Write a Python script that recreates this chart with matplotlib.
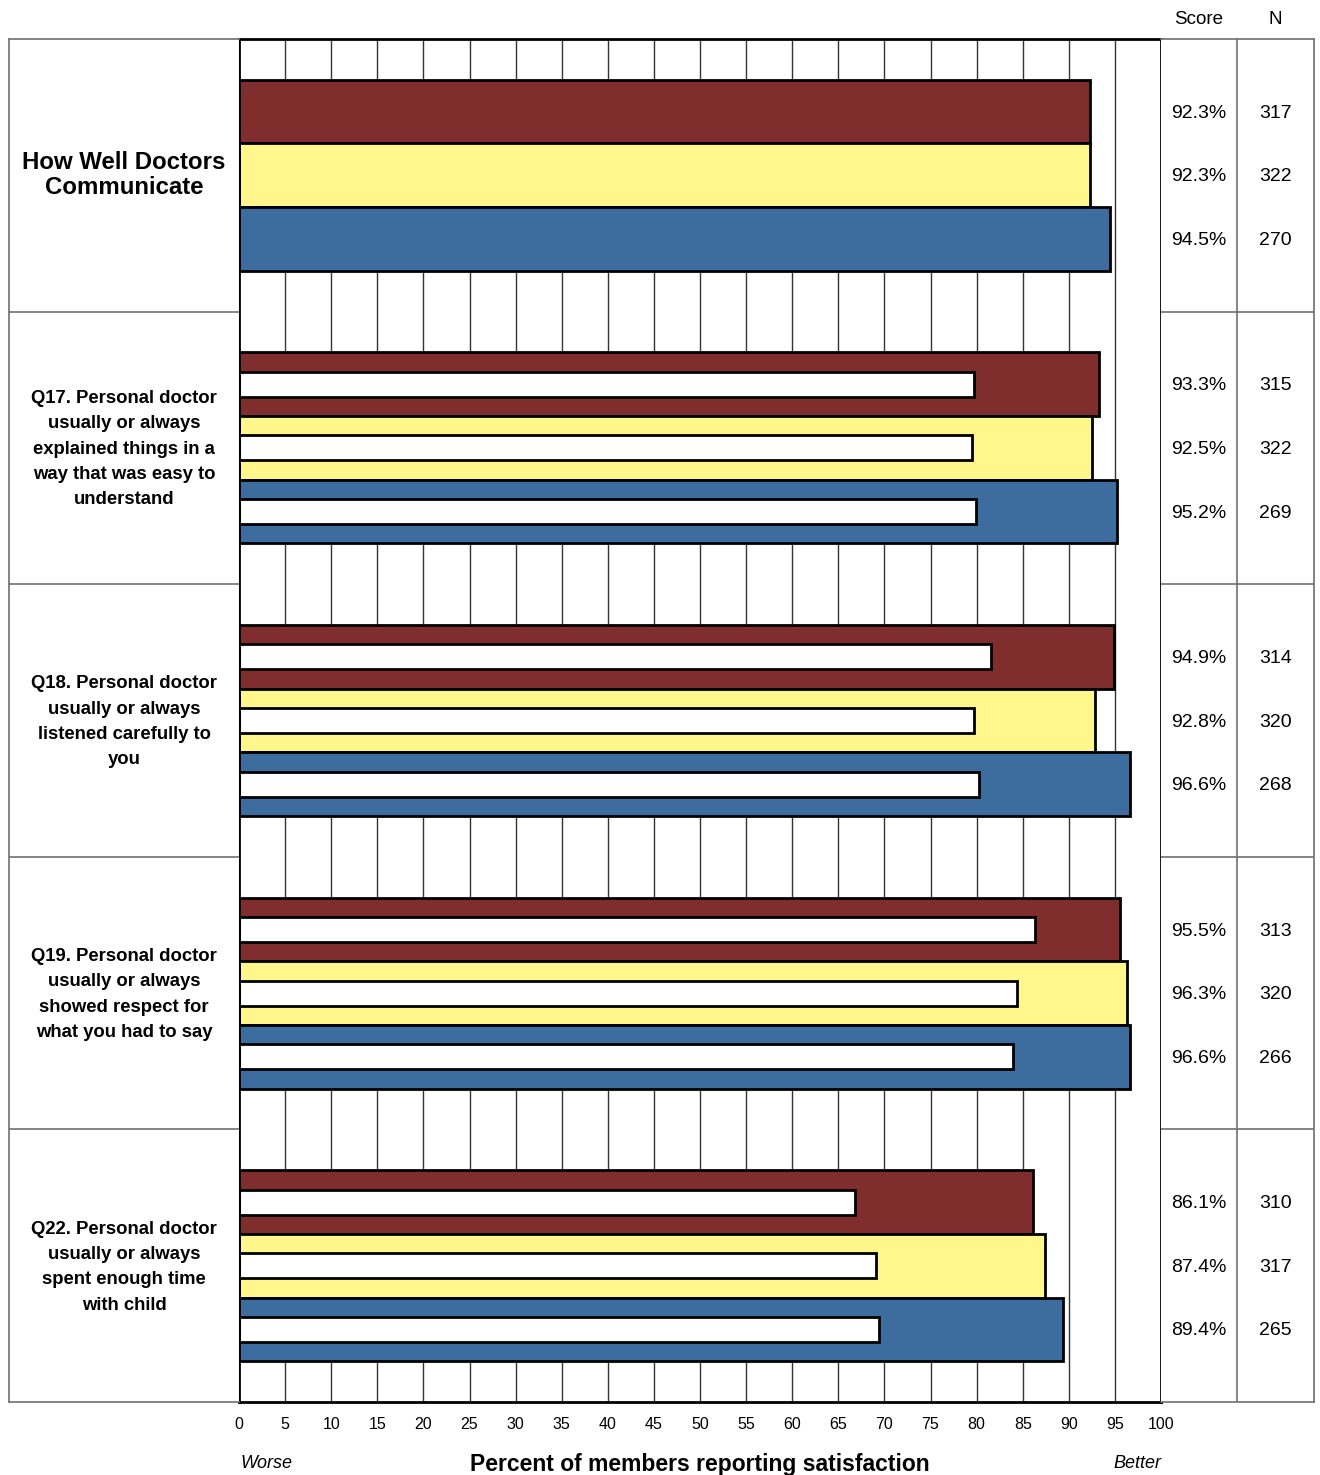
import numpy as np
import matplotlib
matplotlib.use("Agg")
import matplotlib.pyplot as plt

plt.rcParams['font.family'] = ['Liberation Sans', 'DejaVu Sans']

# ---- data ----
group_labels = [
    "How Well Doctors\nCommunicate",
    "Q17. Personal doctor\nusually or always\nexplained things in a\nway that was easy to\nunderstand",
    "Q18. Personal doctor\nusually or always\nlistened carefully to\nyou",
    "Q19. Personal doctor\nusually or always\nshowed respect for\nwhat you had to say",
    "Q22. Personal doctor\nusually or always\nspent enough time\nwith child",
]
score_a = [92.3, 93.3, 94.9, 95.5, 86.1]
score_b = [92.3, 92.5, 92.8, 96.3, 87.4]
score_c = [94.5, 95.2, 96.6, 96.6, 89.4]
n_a = [317, 315, 314, 313, 310]
n_b = [322, 322, 320, 320, 317]
n_c = [270, 269, 268, 266, 265]
always_a = [np.nan, 79.75, 81.6, 86.3, 66.8]
always_b = [np.nan, 79.5, 79.75, 84.4, 69.1]
always_c = [np.nan, 79.9, 80.3, 83.9, 69.4]
x_ticks = list(range(0, 101, 5))

colors = ["#802D2D", "#FFF68C", "#3C6D9E"]

W, H = 1320, 1475
fig = plt.figure(figsize=(W / 100, H / 100), dpi=100)

def rect(x0, y0, x1, y1):
    return [x0 / W, 1 - y1 / H, (x1 - x0) / W, (y1 - y0) / H]

top_px, bot_px = 39, 1402
plot_h = bot_px - top_px
ax = fig.add_axes(rect(239, top_px, 1161, bot_px))
ax_lbl = fig.add_axes(rect(9, top_px, 239, bot_px), sharey=ax)
ax_tbl = fig.add_axes(rect(1161, top_px, 1314, bot_px), sharey=ax)

n_groups = len(group_labels)
gap = 0.15
bh = (1 - 2 * gap) / 3
inner_h = 0.092
txt_shift = 0.006  # small nudge so digits sit on the bar centre line

series = [(score_a, always_a, n_a), (score_b, always_b, n_b), (score_c, always_c, n_c)]

# grid lines
for xv in x_ticks[1:-1]:
    ax.axvline(xv, color="#333333", lw=1.0, zorder=1)

for k, (scores, always, ns) in enumerate(series):
    centers = np.arange(n_groups) + gap + bh * (k + 0.5)
    ax.barh(centers, scores, height=bh, left=0, color=colors[k],
            edgecolor="black", linewidth=2.0, zorder=3)
    ax.barh(centers, always, height=inner_h, left=0, color="white",
            edgecolor="black", linewidth=2.0, zorder=4)
    for c, s, n in zip(centers, scores, ns):
        ax_tbl.text(0.245, c + txt_shift, f"{s:.1f}%", ha="center", va="center", fontsize=14)
        ax_tbl.text(0.75, c + txt_shift, f"{n}", ha="center", va="center", fontsize=14)

ax.set_xlim(0, 100)
ax.set_ylim(n_groups, 0)
ax.set_xticks(x_ticks)
ax.set_xticklabels([str(t) for t in x_ticks], fontsize=11.5)
ax.tick_params(axis="x", length=0, pad=10.5)
ax.tick_params(axis="y", left=False, labelleft=False)
for s in ax.spines.values():
    s.set_color("black")
    s.set_linewidth(2.0)
    s.set_zorder(6)

lab_y = -(1464 - bot_px) / plot_h
ax.text(0.5, lab_y, "Percent of members reporting satisfaction", transform=ax.transAxes,
        ha="center", va="center", fontsize=16.5, fontweight="bold")
ax.text(0.002, lab_y, "Worse", transform=ax.transAxes, ha="left", va="center",
        fontsize=13, style="italic")
ax.text(1.0, lab_y, "Better", transform=ax.transAxes, ha="right", va="center",
        fontsize=13, style="italic")

# left label column
ax_lbl.set_xlim(0, 1)
ax_lbl.tick_params(left=False, bottom=False, labelleft=False, labelbottom=False)
for s in ax_lbl.spines.values():
    s.set_color("#707070")
    s.set_linewidth(1.2)
ax_lbl.spines["right"].set_visible(False)
for g in range(1, n_groups):
    ax_lbl.axhline(g, color="#707070", lw=1.2)
for g, lab in enumerate(group_labels):
    if g == 0:
        ax_lbl.text(0.5, g + 0.5, lab, ha="center", va="center", fontsize=17.3,
                    fontweight="bold", linespacing=1.13)
    else:
        ax_lbl.text(0.5, g + 0.505, lab, ha="center", va="center", fontsize=13.3,
                    fontweight="bold", linespacing=1.64)

# right score / N table
ax_tbl.set_xlim(0, 1)
ax_tbl.tick_params(left=False, bottom=False, labelleft=False, labelbottom=False)
for s in ax_tbl.spines.values():
    s.set_color("#707070")
    s.set_linewidth(1.2)
ax_tbl.spines["left"].set_visible(False)
ax_tbl.axvline((1237 - 1161) / (1314 - 1161), color="#707070", lw=1.2)
for g in range(1, n_groups):
    ax_tbl.axhline(g, color="#707070", lw=1.2)
hdr_y = 1 + (top_px - 19) / plot_h
ax_tbl.text(0.245, hdr_y, "Score", transform=ax_tbl.transAxes,
            ha="center", va="center", fontsize=13.5)
ax_tbl.text(0.75, hdr_y, "N", transform=ax_tbl.transAxes,
            ha="center", va="center", fontsize=13.5)

fig.savefig("out.png", dpi=100, facecolor="white")
